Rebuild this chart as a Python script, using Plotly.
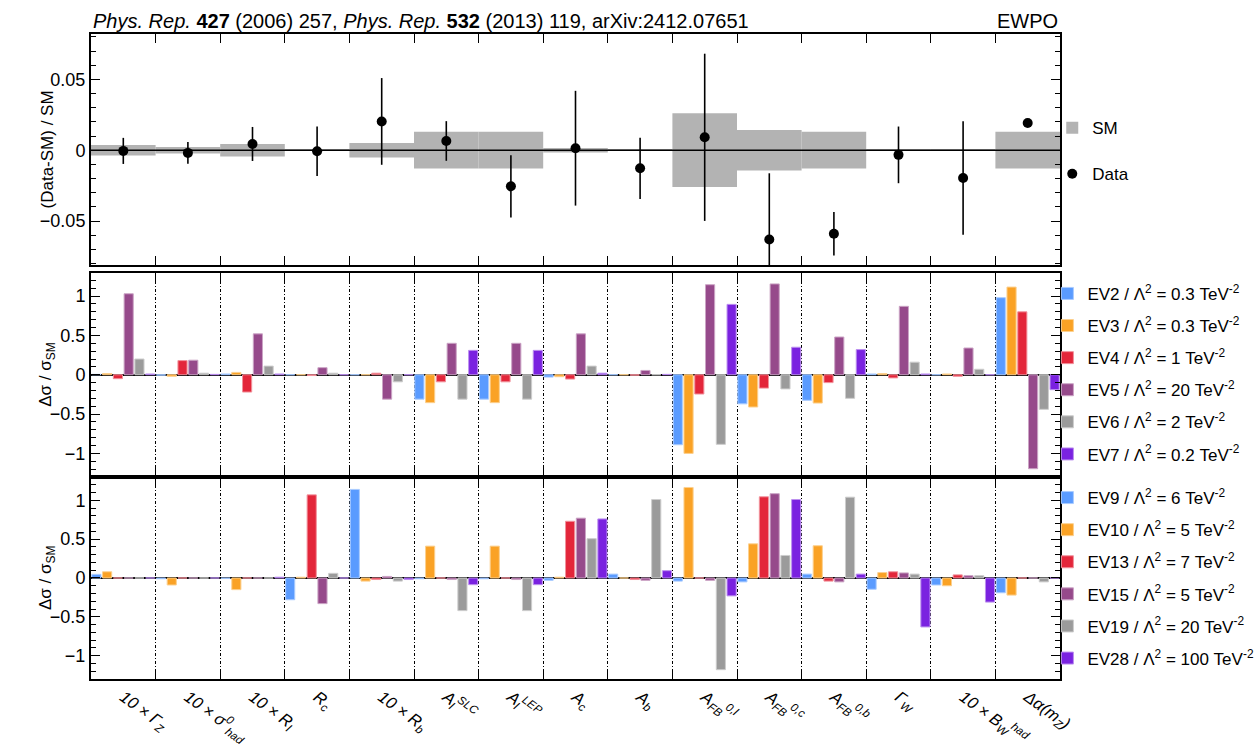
import plotly.graph_objects as go

# ---------------- data ----------------
categories = [
    "<i>10 × Γ<sub>Z</sub></i>",
    "<i>10 × σ<sup>0</sup><sub>had</sub></i>",
    "<i>10 × R<sub>l</sub></i>",
    "<i>R<sub>c</sub></i>",
    "<i>10 × R<sub>b</sub></i>",
    "<i>A<sub>l</sub><sup>SLC</sup></i>",
    "<i>A<sub>l</sub><sup>LEP</sup></i>",
    "<i>A<sub>c</sub></i>",
    "<i>A<sub>b</sub></i>",
    "<i>A<sub>FB</sub><sup>0,l</sup></i>",
    "<i>A<sub>FB</sub><sup>0,c</sup></i>",
    "<i>A<sub>FB</sub><sup>0,b</sup></i>",
    "<i>Γ<sub>W</sub></i>",
    "<i>10 × B<sub>W</sub><sup>had</sup></i>",
    "<i>Δα(m<sub>Z</sub>)</i>",
]

sm_halfwidth = [0.0037, 0.0023, 0.0044, 0.0005, 0.0051, 0.013, 0.013, 0.0016,
                0.0004, 0.026, 0.0143, 0.013, 0.0005, 0.0005, 0.013]
data_val = [-0.0005, -0.0019, 0.0044, -0.0007, 0.0203, 0.0065, -0.0255, 0.0014,
            -0.0128, 0.0091, -0.0630, -0.0590, -0.0033, -0.0196, 0.0192]
data_err = [0.0092, 0.0077, 0.012, 0.0175, 0.0306, 0.014, 0.022, 0.0405,
            0.0216, 0.059, 0.0467, 0.0154, 0.020, 0.040, 0.0]

mid_names = ["EV2 / Λ<sup>2</sup> = 0.3 TeV<sup>-2</sup>",
             "EV3 / Λ<sup>2</sup> = 0.3 TeV<sup>-2</sup>",
             "EV4 / Λ<sup>2</sup> = 1 TeV<sup>-2</sup>",
             "EV5 / Λ<sup>2</sup> = 20 TeV<sup>-2</sup>",
             "EV6 / Λ<sup>2</sup> = 2 TeV<sup>-2</sup>",
             "EV7 / Λ<sup>2</sup> = 0.2 TeV<sup>-2</sup>"]
EV2 = [0.005, -0.005, 0.01, 0.0, 0.0, -0.31, -0.31, -0.03, 0.0, -0.89, -0.37, -0.325, 0.01, 0.0, 0.98]
EV3 = [0.015, -0.02, 0.03, 0.0, 0.0, -0.355, -0.355, -0.025, 0.0, -1.0, -0.41, -0.36, 0.015, 0.01, 1.115]
EV4 = [-0.05, 0.18, -0.22, -0.01, 0.02, -0.09, -0.09, -0.055, -0.005, -0.245, -0.17, -0.10, -0.04, -0.02, 0.80]
EV5 = [1.03, 0.185, 0.52, 0.09, -0.31, 0.40, 0.40, 0.52, 0.055, 1.145, 1.155, 0.48, 0.87, 0.34, -1.195]
EV6 = [0.20, 0.02, 0.11, 0.02, -0.09, -0.31, -0.31, 0.11, 0.0, -0.885, -0.18, -0.30, 0.16, 0.07, -0.44]
EV7 = [0.01, 0.005, 0.01, 0.0, 0.0, 0.31, 0.31, 0.02, 0.005, 0.895, 0.35, 0.32, 0.01, 0.0, -0.19]

bot_names = ["EV9 / Λ<sup>2</sup> = 6 TeV<sup>-2</sup>",
             "EV10 / Λ<sup>2</sup> = 5 TeV<sup>-2</sup>",
             "EV13 / Λ<sup>2</sup> = 7 TeV<sup>-2</sup>",
             "EV15 / Λ<sup>2</sup> = 5 TeV<sup>-2</sup>",
             "EV19 / Λ<sup>2</sup> = 20 TeV<sup>-2</sup>",
             "EV28 / Λ<sup>2</sup> = 100 TeV<sup>-2</sup>"]
EV9 = [0.047, -0.01, -0.005, -0.28, 1.14, -0.01, -0.01, -0.03, 0.05, -0.04, -0.05, 0.05, -0.145, -0.09, -0.19]
EV10 = [0.08, -0.09, -0.15, 0.01, -0.04, 0.41, 0.41, 0.01, 0.0, 1.165, 0.44, 0.415, 0.07, -0.10, -0.22]
EV13 = [0.0, 0.0, 0.0, 1.07, -0.02, 0.0, 0.0, 0.73, -0.02, 0.0, 1.045, -0.04, 0.08, 0.04, 0.0]
EV15 = [0.0, 0.0, 0.0, -0.33, 0.02, -0.02, -0.02, 0.77, -0.03, -0.03, 1.085, -0.05, 0.065, 0.03, 0.0]
EV19 = [0.0, 0.0, 0.0, 0.06, -0.04, -0.42, -0.42, 0.506, 1.01, -1.18, 0.29, 1.04, 0.05, 0.03, -0.05]
EV28 = [0.0, 0.0, 0.01, 0.0, -0.02, -0.086, -0.086, 0.76, 0.094, -0.23, 1.01, 0.05, -0.63, -0.31, 0.0]

# ---------------- style ----------------
colors = ["#5A9BFF", "#FAA225", "#E3263A", "#964A8B", "#9B9B9B", "#7A22E0"]
edge_colors = ["#A9CBFF", "#FCD08F", "#F1929C", "#CBA4C5", "#CDCDCD", "#BC90EF"]
FONT = "Liberation Sans, Arial, sans-serif"

fig = go.Figure()

# top panel: SM band + data
fig.add_trace(go.Bar(
    x=categories, y=[2 * h for h in sm_halfwidth], base=[-h for h in sm_halfwidth],
    width=1, offset=-0.5, marker=dict(color="#B3B3B3", line=dict(width=0)),
    name="SM", xaxis="x", yaxis="y", legend="legend", legendgroup="sm",
))
fig.add_trace(go.Scatter(
    x=categories, y=data_val, mode="markers",
    marker=dict(color="black", size=10),
    error_y=dict(type="data", array=data_err, color="black", thickness=1.6, width=0),
    name="Data", xaxis="x", yaxis="y", legend="legend", legendgroup="data",
))

for i, (nm, vals) in enumerate(zip(mid_names, [EV2, EV3, EV4, EV5, EV6, EV7])):
    fig.add_trace(go.Bar(
        x=categories, y=vals, name=nm, xaxis="x2", yaxis="y2", legend="legend2",
        legendgroup="m%d" % i,
        marker=dict(color=colors[i], line=dict(color=edge_colors[i], width=1)),
    ))
for i, (nm, vals) in enumerate(zip(bot_names, [EV9, EV10, EV13, EV15, EV19, EV28])):
    fig.add_trace(go.Bar(
        x=categories, y=vals, name=nm, xaxis="x3", yaxis="y3", legend="legend3",
        legendgroup="b%d" % i,
        marker=dict(color=colors[i], line=dict(color=edge_colors[i], width=1)),
    ))

xcommon = dict(type="category", tickson="boundaries", ticks="inside", ticklen=9,
               tickwidth=1.2, tickcolor="black", showline=True, linewidth=2,
               linecolor="black", mirror="ticks", range=[-0.5, 14.5],
               categoryorder="array", categoryarray=categories, automargin=False)
ycommon = dict(ticks="inside", ticklen=9, tickwidth=1.2, tickcolor="black",
               showline=True, linewidth=2, linecolor="black", mirror="ticks",
               showgrid=False, tickfont=dict(size=18, color="black"), automargin=False)

grid = dict(showgrid=True, gridcolor="black", gridwidth=1, griddash="3px,2px,1px,2px")

d_bot = [0.0, 0.3132]
d_mid = [0.3132, 0.6302]
d_top = [0.6419, 1.0]

fig.update_layout(
    width=1259, height=748,
    margin=dict(l=91, r=199, t=34, b=69, autoexpand=False),
    paper_bgcolor="white", plot_bgcolor="white",
    font=dict(family=FONT, size=17, color="black"),
    barmode="group", bargap=0.0, bargroupgap=0.15,
    xaxis=dict(**xcommon, anchor="y", showticklabels=False, showgrid=False),
    xaxis2=dict(**xcommon, **grid, anchor="y2", showticklabels=False),
    xaxis3=dict(**xcommon, **grid, anchor="y3", showticklabels=True, tickangle=36,
                ticklabelstandoff=0, tickfont=dict(size=16.5, color="black")),
    yaxis=dict(**ycommon, domain=d_top, anchor="x", range=[-0.081, 0.082],
               tick0=0, dtick=0.05, zeroline=False,
               minor=dict(ticks="inside", ticklen=5, tickcolor="black", tick0=0, dtick=0.01, showgrid=False)),
    yaxis2=dict(**ycommon, domain=d_mid, anchor="x2", range=[-1.3, 1.3],
                tick0=0, dtick=0.5, zeroline=True, zerolinecolor="black", zerolinewidth=1.5,
                minor=dict(ticks="inside", ticklen=5, tickcolor="black", tick0=0, dtick=0.1, showgrid=False)),
    yaxis3=dict(**ycommon, domain=d_bot, anchor="x3", range=[-1.3, 1.3],
                tick0=0, dtick=0.5, zeroline=True, zerolinecolor="black", zerolinewidth=1.5,
                minor=dict(ticks="inside", ticklen=5, tickcolor="black", tick0=0, dtick=0.1, showgrid=False)),
    legend=dict(x=0.992, xanchor="left", y=0.882, yanchor="top", font=dict(size=17),
                bgcolor="rgba(0,0,0,0)", tracegroupgap=21, traceorder="grouped"),
    legend2=dict(x=0.987, xanchor="left", y=0.625, yanchor="top", font=dict(size=17),
                 bgcolor="rgba(0,0,0,0)", tracegroupgap=7, traceorder="grouped"),
    legend3=dict(x=0.987, xanchor="left", y=0.3085, yanchor="top", font=dict(size=17),
                 bgcolor="rgba(0,0,0,0)", tracegroupgap=7, traceorder="grouped"),
    showlegend=True,
)

# SM central line drawn over the band
fig.add_shape(type="line", xref="x domain", x0=0, x1=1, yref="y", y0=0, y1=0,
              line=dict(color="black", width=1.5), layer="above")

# y-axis titles (placed between tick labels)
title_x = (47 - 91) / 969.0
for txt, dom in [("(Data-SM) / SM", d_top), ("Δσ / σ<sub>SM</sub>", d_mid),
                 ("Δσ / σ<sub>SM</sub>", d_bot)]:
    fig.add_annotation(text=txt, xref="paper", yref="paper", x=title_x,
                       y=(dom[0] + dom[1]) / 2, xanchor="center", yanchor="middle",
                       textangle=-90, showarrow=False, font=dict(size=17, color="black"))

fig.add_annotation(
    text="<i>Phys. Rep.</i> <b>427</b> (2006) 257, <i>Phys. Rep.</i> <b>532</b> (2013) 119, arXiv:2412.07651",
    xref="paper", yref="paper", x=0, y=1, xanchor="left", yanchor="bottom",
    showarrow=False, font=dict(size=20, color="black"), yshift=0)
fig.add_annotation(
    text="EWPO", xref="paper", yref="paper", x=1, y=1, xanchor="right", yanchor="bottom",
    showarrow=False, font=dict(size=20, color="black"), yshift=0)

fig.write_html("out.html")
